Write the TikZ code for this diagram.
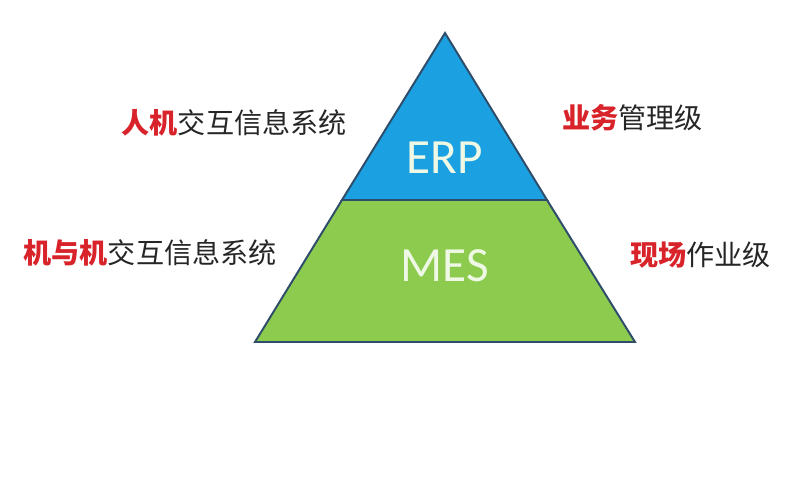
\documentclass[tikz,border=0pt]{standalone}
\usepackage{fontspec}
\setsansfont{Carlito}
\newfontfamily\cjk{Noto Sans CJK SC}
\usepackage{tikz}
\usetikzlibrary{calc,positioning}
\definecolor{erpblue}{HTML}{1BA1E2}
\definecolor{mesgreen}{HTML}{8DCB4E}
\definecolor{edgeblue}{HTML}{2E4D6B}
\definecolor{hired}{HTML}{D8232A}
\definecolor{paletext}{HTML}{EEF8E4}
\tikzset{
    x=0.025cm,y=-0.025cm,
    layer/.style = {draw=edgeblue, line width=1.4pt, line join=miter},
    level/.style = {font=\sffamily\fontsize{35}{35}\selectfont, text=paletext, inner sep=0pt},
    side/.style = {font=\cjk\fontsize{20}{20}\selectfont, text=black!85, inner sep=0pt},
    hl/.style = {text=hired}
}
\newcommand{\red}[1]{\textcolor{hired}{\bfseries #1}}

\begin{document}
\begin{tikzpicture}
	\useasboundingbox (0,0) rectangle (800,493);
	\coordinate (top) at (445,33);
	\coordinate (bl) at (255,342);
	\coordinate (br) at (635,342);
	\coordinate (ml) at (342,200);
	\coordinate (mr) at (547,200);

	% two layers
	\filldraw[layer, fill=mesgreen] (ml) -- (mr) -- (br) -- (bl) -- cycle;
	\filldraw[layer, fill=erpblue] (top) -- (mr) -- (ml) -- cycle;

	\node[level] (erp) at (445,158) {ERP};
	\node[level] (mes) at (445,266) {MES};

	\node[side, anchor=east] (1) at (347,123) {\red{人机}交互信息系统};
	\node[side, anchor=east] (2) at (277,253) {\red{机与机}交互信息系统};
	\node[side, anchor=west] (3) at (562,118) {\red{业务}管理级};
	\node[side, anchor=west] (4) at (630,255) {\red{现场}作业级};

\end{tikzpicture}
\end{document}
